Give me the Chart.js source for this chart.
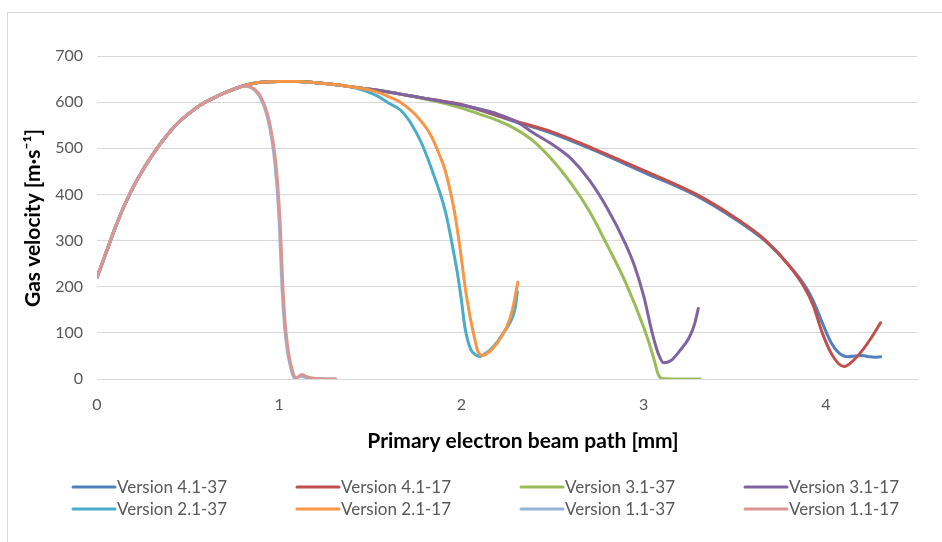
<!DOCTYPE html>
<html>
<head>
<meta charset="utf-8">
<script src="https://cdn.jsdelivr.net/npm/chart.js@4.4.1/dist/chart.umd.min.js"></script>
<style>
  html, body { margin: 0; padding: 0; background: #fff; }
  #wrap { position: relative; width: 942px; height: 542px; overflow: hidden; }
  #frame { position: absolute; left: 7px; top: 12px; width: 960px; height: 560px;
           border-left: 1px solid #d9d9d9; border-top: 1px solid #d9d9d9; }
  canvas { position: absolute; left: 0; top: 0; }
</style>
</head>
<body>
<div id="wrap">
  <div id="frame"></div>
  <canvas id="chart" width="942" height="542"></canvas>
</div>
<script>
// Labels
var seriesNames = [
  "Version 4.1-37", "Version 4.1-17", "Version 3.1-37", "Version 3.1-17",
  "Version 2.1-37", "Version 2.1-17", "Version 1.1-37", "Version 1.1-17"
];
var seriesColors = [
  "#4F81BD", "#C0504D", "#9BBB59", "#8064A2",
  "#4BACC6", "#F79646", "#95B3D7", "#D99694"
];
var xTicks = [0, 1, 2, 3, 4];
var yTicks = [0, 100, 200, 300, 400, 500, 600, 700];
var xTitle = "Primary electron beam path [mm]";
var yTitle = "Gas velocity [m\u00B7s\u207B\u00B9]";

// shared start of every run (x in mm, velocity in m/s)
var riseX = [0, 0.05, 0.1, 0.15, 0.2, 0.25, 0.3, 0.35, 0.4, 0.45, 0.5, 0.55, 0.6, 0.65, 0.7, 0.75, 0.8];
var riseY = [220, 274, 328, 376, 417, 452, 483, 511, 536, 557, 574, 589, 601, 611, 620, 628, 635];

// shared plateau of the longer runs
var plateauX = [0.85, 0.9, 1.0, 1.1, 1.2, 1.3, 1.4];
var plateauY = [640, 643, 645, 645, 642, 638, 633];

// tails
var v41_37x = [1.5, 1.6, 1.7, 1.8, 1.9, 2.0, 2.29, 2.5, 2.72, 3.0, 3.29, 3.5, 3.67, 3.8, 3.88, 3.93, 3.98, 4.03, 4.07, 4.12, 4.16, 4.2, 4.24, 4.27, 4.3];
var v41_37y = [628, 622, 615, 608, 601, 594, 558, 532, 497, 448, 397, 347, 298, 245, 205, 170, 122, 78, 57, 48, 50, 51, 48, 47, 48];

var v41_17x = [1.5, 1.6, 1.7, 1.8, 1.9, 2.0, 2.29, 2.5, 2.72, 3.0, 3.29, 3.5, 3.67, 3.8, 3.88, 3.93, 3.98, 4.03, 4.07, 4.1, 4.15, 4.2, 4.25, 4.3];
var v41_17y = [628, 622, 615, 608, 602, 595, 560, 535, 500, 452, 400, 350, 300, 245, 200, 160, 100, 55, 33, 27, 40, 62, 90, 122];

var v31_37x = [1.5, 1.6, 1.7, 1.8, 1.9, 2.0, 2.1, 2.2, 2.3, 2.4, 2.5, 2.6, 2.7, 2.8, 2.9, 3.0, 3.05, 3.08, 3.1, 3.15, 3.2, 3.31];
var v31_37y = [628, 622, 615, 607, 598, 587, 574, 560, 541, 514, 474, 425, 365, 290, 210, 112, 52, 10, 1, 0, 0, 0];

var v31_17x = [1.5, 1.6, 1.7, 1.8, 1.9, 2.0, 2.1, 2.2, 2.3, 2.4, 2.5, 2.6, 2.7, 2.8, 2.9, 2.95, 3.0, 3.05, 3.08, 3.11, 3.15, 3.2, 3.25, 3.28, 3.3];
var v31_17y = [628, 622, 615, 608, 601, 594, 585, 574, 558, 532, 508, 478, 432, 370, 293, 245, 180, 95, 55, 35, 40, 62, 90, 120, 153];

var v21_37x = [1.45, 1.5, 1.55, 1.6, 1.665, 1.72, 1.78, 1.85, 1.91, 1.95, 1.985, 2.0, 2.02, 2.05, 2.08, 2.1, 2.13, 2.16, 2.2, 2.23, 2.27, 2.295, 2.307];
var v21_37y = [627, 620, 611, 598, 583, 556, 512, 440, 366, 290, 212, 170, 110, 65, 52, 49, 55, 64, 82, 100, 125, 154, 189];

var v21_17x = [1.45, 1.5, 1.55, 1.6, 1.665, 1.74, 1.8, 1.835, 1.88, 1.91, 1.96, 1.99, 2.02, 2.045, 2.07, 2.09, 2.115, 2.15, 2.18, 2.22, 2.25, 2.28, 2.3, 2.31];
var v21_17y = [630, 626, 620, 612, 600, 576, 548, 526, 485, 453, 366, 290, 200, 140, 92, 60, 51, 58, 70, 92, 114, 150, 190, 210];

var v11_37x = [0.835, 0.865, 0.89, 0.91, 0.93, 0.95, 0.97, 0.985, 1.0, 1.015, 1.03, 1.045, 1.06, 1.075, 1.085, 1.1, 1.12, 1.15, 1.2, 1.25, 1.31];
var v11_37y = [633, 626, 614, 598, 575, 540, 490, 430, 340, 200, 110, 60, 30, 8, 1, 3, 6, 3, 1, 0, 0];

var v11_17x = [0.84, 0.87, 0.895, 0.915, 0.935, 0.955, 0.975, 0.99, 1.005, 1.02, 1.035, 1.05, 1.065, 1.08, 1.09, 1.105, 1.125, 1.15, 1.2, 1.25, 1.31];
var v11_17y = [633, 626, 614, 598, 575, 540, 490, 430, 340, 200, 110, 60, 30, 8, 1, 5, 10, 5, 1, 0, 0];

function points(xs, ys) {
  return xs.map(function (x, i) { return { x: x, y: ys[i] }; });
}
function longRun(tx, ty) {
  return points(riseX.concat(plateauX, tx), riseY.concat(plateauY, ty));
}
function shortRun(tx, ty) {
  return points(riseX.concat(tx), riseY.concat(ty));
}

var seriesData = [
  longRun(v41_37x, v41_37y),
  longRun(v41_17x, v41_17y),
  longRun(v31_37x, v31_37y),
  longRun(v31_17x, v31_17y),
  longRun(v21_37x, v21_37y),
  longRun(v21_17x, v21_17y),
  shortRun(v11_37x, v11_37y),
  shortRun(v11_17x, v11_17y)
];

var datasets = seriesNames.map(function (name, i) {
  return {
    label: name,
    data: seriesData[i],
    borderColor: seriesColors[i],
    backgroundColor: seriesColors[i],
    borderWidth: 3,
    pointRadius: 0,
    cubicInterpolationMode: "monotone",
    borderCapStyle: "round",
    borderJoinStyle: "round",
    order: seriesNames.length - i // later series on top, like the original
  };
});

// axis titles and the 4-column legend
var extras = {
  id: "extras",
  afterDraw: function (chart) {
    var ctx = chart.ctx;
    ctx.save();
    ctx.fillStyle = "#000";
    ctx.font = "bold 21px Lato";
    ctx.textAlign = "center";
    ctx.textBaseline = "middle";
    ctx.fillText(xTitle, 523, 441);
    ctx.save();
    ctx.translate(33, 218);
    ctx.rotate(-Math.PI / 2);
    ctx.fillText(yTitle, 0, 0);
    ctx.restore();

    ctx.font = "17px Lato";
    ctx.textAlign = "left";
    ctx.fillStyle = "#595959";
    chart.data.datasets.forEach(function (ds, i) {
      var x0 = 73 + (i % 4) * 224;
      var y = 487 + Math.floor(i / 4) * 22;
      ctx.strokeStyle = ds.borderColor;
      ctx.lineWidth = 3;
      ctx.lineCap = "round";
      ctx.beginPath();
      ctx.moveTo(x0, y);
      ctx.lineTo(x0 + 42, y);
      ctx.stroke();
      ctx.fillText(ds.label, x0 + 44, y + 1);
    });
    ctx.restore();
  }
};

var ctx = document.getElementById("chart").getContext("2d");
var myChart = new Chart(ctx, {
  type: "line",
  data: { datasets: datasets },
  plugins: [extras],
  options: {
    responsive: false,
    animation: false,
    layout: { padding: { left: 0, right: 25, top: 56, bottom: 0 } },
    plugins: {
      legend: { display: false },
      tooltip: { enabled: false }
    },
    scales: {
      x: {
        type: "linear",
        min: 0,
        max: 4.5,
        afterFit: function (scale) { scale.height = 163; },
        afterBuildTicks: function (scale) {
          scale.ticks = xTicks.map(function (v) { return { value: v }; });
        },
        grid: { display: false, drawTicks: false },
        border: { display: true, color: "#d9d9d9", width: 1 },
        ticks: {
          padding: 16,
          color: "#595959",
          font: { family: "Lato", size: 16 },
          maxRotation: 0
        }
      },
      y: {
        min: 0,
        max: 700,
        afterFit: function (scale) { scale.width = 97; },
        afterBuildTicks: function (scale) {
          scale.ticks = yTicks.map(function (v) { return { value: v }; });
        },
        grid: { color: "#d9d9d9", lineWidth: 1, drawTicks: false },
        border: { display: false },
        ticks: {
          padding: 14,
          color: "#595959",
          font: { family: "Lato", size: 16 }
        }
      }
    }
  }
});
</script>
</body>
</html>
